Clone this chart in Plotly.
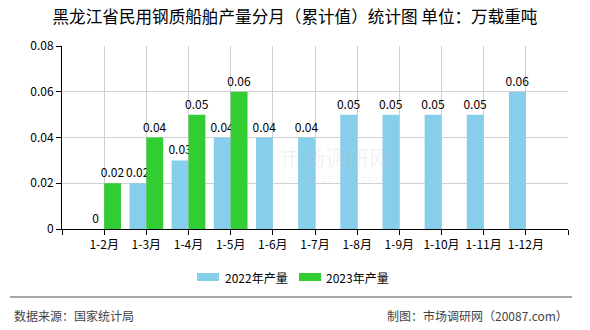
import plotly.graph_objects as go

# Cumulative monthly output of steel civil ships, Heilongjiang (10k DWT)
months = ["1-2月", "1-3月", "1-4月", "1-5月", "1-6月", "1-7月",
          "1-8月", "1-9月", "1-10月", "1-11月", "1-12月"]
output_2022 = [0, 0.02, 0.03, 0.04, 0.04, 0.04, 0.05, 0.05, 0.05, 0.05, 0.06]
output_2023 = [0.02, 0.04, 0.05, 0.06, None, None, None, None, None, None, None]

series_names = ["2022年产量", "2023年产量"]
series_colors = ["#87CEEB", "#32CD32"]
y_ticks = [0, 0.02, 0.04, 0.06, 0.08]

FONT = "Noto Sans CJK SC, Noto Sans, sans-serif"
xpos = list(range(len(months)))

# Plot-area geometry in pixels, used to place paper-space decorations
PL, PW, PB, PH = 62, 506, 229, 183


def px(x):
    return (x - PL) / PW


def py(y):
    return (PB - y) / PH


def labels(vals):
    return [("" if v is None else f"{v:g}") for v in vals]


fig = go.Figure()
for name, vals, color in zip(series_names, [output_2022, output_2023], series_colors):
    fig.add_trace(go.Bar(
        x=xpos, y=vals, name=name,
        marker=dict(color=color, line=dict(width=0)),
        text=labels(vals), textposition="outside",
        textfont=dict(family=FONT, size=12, color="#000000"),
        constraintext="none", cliponaxis=False,
        showlegend=False,
    ))

# Edge ticks at -1 and n give the frame lines and end tick marks
tickvals = [-1] + xpos + [len(months)]
ticktext = [""] + months + [""]

fig.update_layout(
    width=590, height=330,
    margin=dict(l=PL, r=590 - PL - PW, t=PB - PH, b=330 - PB),
    paper_bgcolor="white", plot_bgcolor="white",
    barmode="group", bargap=0.2, bargroupgap=0,
    font=dict(family=FONT, size=12, color="#000000"),
    title=dict(
        text="黑龙江省民用钢质船舶产量分月（累计值）统计图 单位：万载重吨",
        x=0.5, xanchor="center", y=0.948, yanchor="middle",
        font=dict(family=FONT, size=16.6, color="#000000"),
    ),
    xaxis=dict(
        range=[-1, len(months)], tickmode="array",
        tickvals=tickvals, ticktext=ticktext,
        showgrid=True, gridcolor="#D0D0D0", gridwidth=1,
        showline=True, linecolor="#000000", linewidth=1,
        ticks="outside", ticklen=5, tickcolor="#000000",
        tickfont=dict(family=FONT, size=12, color="#000000"),
        zeroline=False, fixedrange=True,
    ),
    yaxis=dict(
        range=[0, 0.08], tickmode="array", tickvals=y_ticks,
        ticktext=[f"{v:g}" for v in y_ticks],
        showgrid=True, gridcolor="#D0D0D0", gridwidth=1,
        showline=True, linecolor="#000000", linewidth=1,
        ticks="outside", ticklen=5, tickcolor="#000000",
        tickfont=dict(family=FONT, size=12, color="#000000"),
        zeroline=False, fixedrange=True,
    ),
)

# Faint site watermark in the plot area
fig.add_annotation(
    xref="paper", yref="paper", x=px(336), y=py(156), text="市场调研网",
    showarrow=False, borderpad=0,
    font=dict(family=FONT, size=22, color="rgba(200,200,212,0.22)"),
)
fig.add_annotation(
    xref="paper", yref="paper", x=px(336), y=py(186),
    text="w w w . 2 0 0 8 7 . c o m", showarrow=False, borderpad=0,
    font=dict(family=FONT, size=9, color="rgba(200,200,212,0.22)"),
)

# Custom legend: wide flat swatches with labels
legend_items = [(197, 223), (299, 324)]
for (sx, tx), name, color in zip(legend_items, series_names, series_colors):
    fig.add_shape(type="rect", xref="paper", yref="paper",
                  x0=px(sx), x1=px(sx + 22), y0=py(281), y1=py(273),
                  fillcolor=color, line=dict(width=0))
    fig.add_annotation(xref="paper", yref="paper", x=px(tx), y=py(277),
                       xanchor="left", yanchor="middle", text=name,
                       showarrow=False,
                       font=dict(family=FONT, size=12, color="#000000"))

# Footer separator and source notes
fig.add_shape(type="line", xref="paper", yref="paper",
              x0=px(10), x1=px(572), y0=py(297), y1=py(297),
              line=dict(color="#888888", width=1.5))
fig.add_annotation(xref="paper", yref="paper", x=px(12), y=py(315),
                   xanchor="left", yanchor="middle", text="数据来源：国家统计局",
                   showarrow=False, font=dict(family=FONT, size=12, color="#444444"))
fig.add_annotation(xref="paper", yref="paper", x=px(570), y=py(315),
                   xanchor="right", yanchor="middle", text="制图：市场调研网（20087.com）",
                   showarrow=False, font=dict(family=FONT, size=12, color="#444444"))

fig.write_html("out.html")
